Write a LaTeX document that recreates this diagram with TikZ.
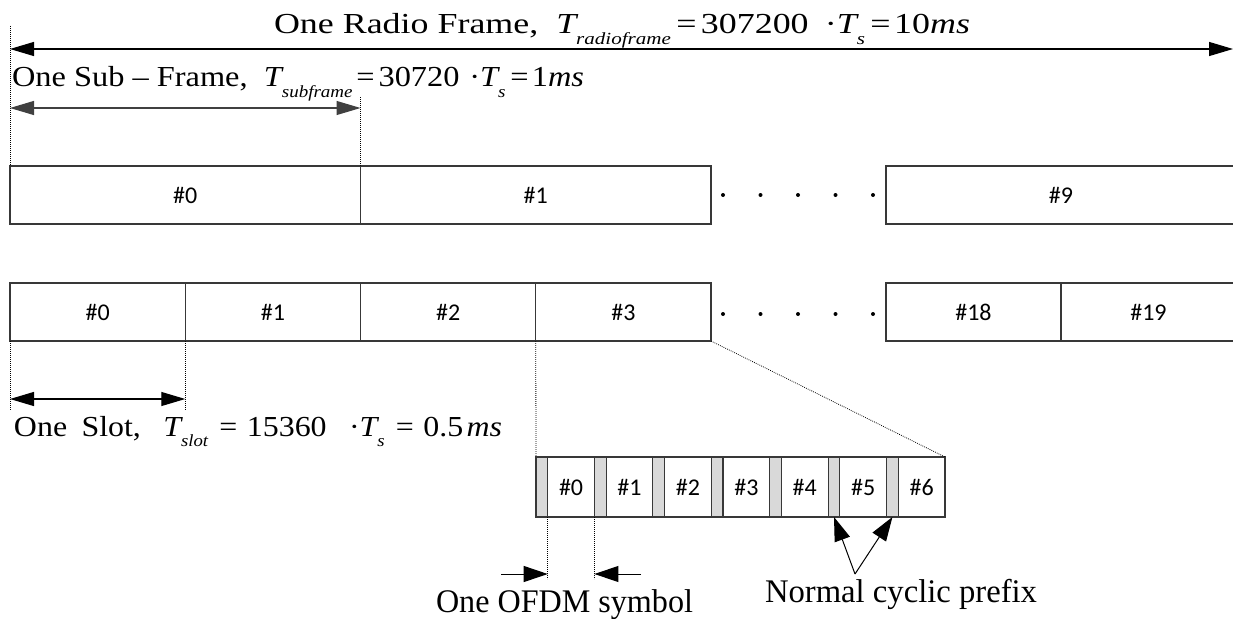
\documentclass[tikz,border=0pt]{standalone}
\usepackage{fontspec}
\usepackage{graphicx}
\setmainfont{Liberation Serif}
\newfontfamily\lblfont{Carlito}
\usetikzlibrary{arrows.meta}

% subscript of the timing formulas
\newcommand\sbs[1]{\kern-0.06em\raisebox{-0.36em}{\fontsize{17}{17}\selectfont\itshape #1}}
\newcommand\eqtext{\fontsize{29}{32}\selectfont}
\newcommand\captext{\fontsize{33}{36}\selectfont}

\begin{document}
\begin{tikzpicture}[x=1pt,y=-1pt,
  cell/.style={draw=black!78, line width=1.2pt, inner sep=0pt, outer sep=0pt,
    font=\lblfont\fontsize{24}{24}\selectfont},
  frame/.style={cell, minimum height=58pt},
  cpbox/.style={cell, fill=black!15, minimum width=11.7pt, minimum height=60pt},
  symbox/.style={cell, fill=white, minimum width=46.73pt, minimum height=60pt},
  guide/.style={black, line width=0.8pt, dash pattern=on 0.8pt off 1.2pt},
  dimarr/.style={{Triangle[length=24pt,width=14pt]}-{Triangle[length=24pt,width=14pt]}, line width=1.2pt},
  onearr/.style={-{Triangle[length=24pt,width=16pt]}, line width=1pt},
  eqlabel/.style={anchor=base west, inner sep=0pt, outer sep=0pt}
]
\useasboundingbox (0,0) rectangle (1233,618);
\clip (0,0) rectangle (1233,618);

% sub-frames
\node[frame, minimum width=350.5pt] (sf0) at (185.25,195) {\#0};
\node[frame, minimum width=350.5pt] (sf1) at (535.75,195) {\#1};
\node[frame, minimum width=350pt]   (sf9) at (1061,195)   {\#9};

% slots
\foreach \i in {0,...,3}
  \node[frame, minimum width=175.25pt] (sl\i) at ({97.625+175.25*\i},312) {\#\i};
\node[frame, minimum width=175pt] (sl18) at (973.5,312)  {\#18};
\node[frame, minimum width=175pt] (sl19) at (1148.5,312) {\#19};

% omitted sub-frames and slots
\foreach \x in {723,760.5,798,835.5,873} {
  \fill (\x,195) circle (2pt);
  \fill (\x,314) circle (2pt);
}

% OFDM symbols of one slot, each led by its cyclic prefix
\foreach \i in {0,...,6} {
  \node[cpbox]  (cp\i)  at ({541.85+58.43*\i},487) {};
  \node[symbox] (sym\i) at ({571.07+58.43*\i},487) {\#\i};
}

% guide lines
\coordinate (g0) at (10,26);
\coordinate (g1) at (360.5,97);
\coordinate (g2) at (10,410);
\coordinate (g3) at (185.25,410);
\coordinate (ybot) at (0,579);
\draw[guide] (g0) -- (sf0.north west);
\draw[guide] (g1) -- (sf0.north east);
\draw[guide] (sl0.south west) -- (g2);
\draw[guide] (sl0.south east) -- (g3);
\draw[guide] (sl3.south west) -- (cp0.north west);
\draw[guide] (sl3.south east) -- (sym6.north east);
\draw[guide] (sym0.south west) -- (sym0.south west |- ybot);
\draw[guide] (sym0.south east) -- (sym0.south east |- ybot);

% duration arrows
\coordinate (rl) at (10,49);
\coordinate (rr) at (1233,49);
\draw[dimarr] (rl) -- (rr);
\coordinate (sfl) at (10,108);
\draw[dimarr, draw=black!75] (sfl) -- (sfl -| sf0.east);
\coordinate (sll) at (10,399);
\draw[dimarr] (sll) -- (sll -| sl0.east);

\coordinate (oy) at (0,574);
\coordinate (o1) at (501,574);
\coordinate (o2) at (641,574);
\draw[onearr] (o1) -- (sym0.west |- oy);
\draw[onearr] (o2) -- (sym0.east |- oy);

\coordinate (cpa) at (855,574);
\draw[onearr] (cpa) -- (cp5.south);
\draw[onearr] (cpa) -- (cp6.south);

% labels
\node[eqlabel] (title) at (274,34) {\resizebox{696pt}{\height}{\eqtext One Radio Frame,\hspace{0.5em}\textit{T}\sbs{radioframe}\hspace{0.15em}=\hspace{0.12em}307200\hspace{0.45em}·\textit{T}\sbs{s}\hspace{0.15em}=\hspace{0.1em}10\textit{ms}}};
\node[eqlabel] (subframe) at (12,87) {\resizebox{572pt}{\height}{\eqtext One Sub -- Frame,\hspace{0.5em}\textit{T}\sbs{subframe}\hspace{0.12em}=\hspace{0.12em}30720\hspace{0.3em}·\textit{T}\sbs{s}\hspace{0.15em}=\hspace{0.1em}1\textit{ms}}};
\node[eqlabel] (slot) at (14,436) {\resizebox{488pt}{\height}{\eqtext One\hspace{0.45em}Slot,\hspace{0.7em}\textit{T}\sbs{slot}\hspace{0.35em}=\hspace{0.3em}15360\hspace{0.7em}·\textit{T}\sbs{s}\hspace{0.35em}=\hspace{0.3em}0.5\hspace{0.1em}\textit{ms}}};
\node[eqlabel] (ofdm) at (436,612) {\resizebox{257pt}{\height}{\captext One OFDM symbol}};
\node[eqlabel] (ncp) at (765,602) {\resizebox{272pt}{\height}{\captext Normal cyclic prefix}};
\end{tikzpicture}
\end{document}
